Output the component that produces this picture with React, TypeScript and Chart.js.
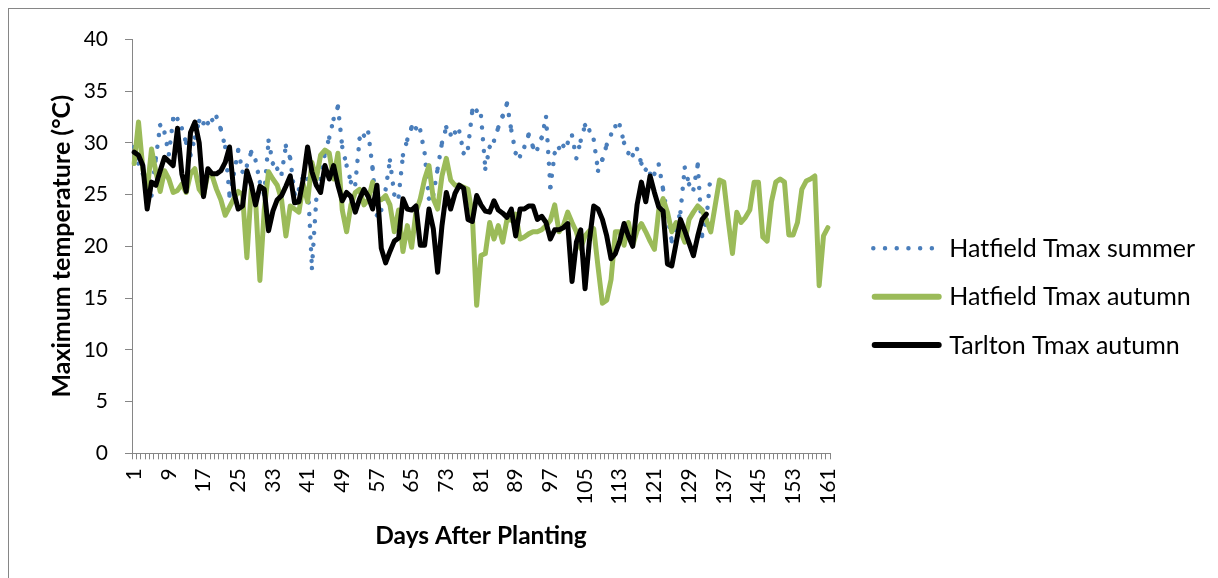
import React, { useEffect, useRef } from 'react';
import { Chart, registerables } from 'chart.js';

Chart.register(...registerables);

// Categories: days after planting
const days: string[] = Array.from({ length: 161 }, (_, i) => String(i + 1));

const seriesNames = ['Hatfield Tmax summer', 'Hatfield Tmax autumn', 'Tarlton Tmax autumn'];

const hatfieldSummer: number[] = [
  29.6, 28, 27, 26.5, 24.9, 28.5, 31.7, 31, 28.9, 32.3,
  32.3, 31.4, 30, 28.8, 30.5, 32.1, 31.9, 31.9, 32.2, 32.5,
  31.3, 29.6, 24.9, 27, 29.3, 27.2, 27.8, 29.1, 28.3, 26.2,
  25, 30.2, 28, 27.5, 27, 29.7, 28.5, 25, 25.5, 26.8,
  26.5, 17.9, 24.5, 26.5, 29, 30.5, 32.3, 33.5, 29.6, 27.8,
  26.2, 26, 30.4, 30.7, 31, 27.5, 23, 23.5, 25.5, 28.3,
  25, 24.8, 28.8, 30.3, 31.5, 31.4, 31.2, 29, 24.6, 25,
  27.5, 30, 31.5, 30.8, 31, 31.1, 29, 29.5, 33.1, 33.1,
  32.6, 27.5, 29.6, 30.2, 31.5, 32.6, 33.8, 31.2, 29, 28.7,
  29.6, 30.8, 29.6, 29.4, 30.5, 32.5, 25.7, 29, 29.5, 29.7,
  30, 30.7, 28.5, 30.2, 31.7, 31.2, 30.3, 27.3, 28.4, 29.8,
  30.8, 31.6, 31.7, 30, 29, 28.8, 29.4, 28, 27.4, 27,
  27, 27.9, 25.5, 23, 20.5, 21.8, 23.3, 27.6, 26, 25.5,
  27.9, 21, 22.6, 27.1,
];

const hatfieldAutumn: number[] = [
  28, 32, 27.5, 25.3, 29.4, 27.2, 25.3, 27.3, 26.5, 25.2,
  25.4, 26, 25.2, 27, 27.5, 25.5, 24.9, 27, 26.8, 25.5,
  24.5, 23, 23.8, 24.6, 25.3, 25, 18.9, 25.5, 24.5, 16.7,
  23.5, 27.2, 26.5, 25.9, 24.5, 21, 23.9, 23.6, 23.3, 26,
  24.3, 28.1, 26.5, 28.8, 29.3, 29, 26.5, 29, 23.5, 21.4,
  24, 25.2, 25.5, 24, 24.5, 26.2, 24.6, 24.5, 24.9, 24,
  21.4, 23.5, 19.5, 22, 19.9, 23.3, 24.6, 26.5, 27.8, 24.6,
  23.6, 26.8, 28.5, 26.4, 25.9, 25.9, 25.7, 25.5, 23, 14.3,
  19.1, 19.3, 22.3, 20.7, 22, 20.4, 22.6, 22.5, 23.1, 20.7,
  20.9, 21.2, 21.4, 21.4, 21.6, 22, 22.5, 24, 21.4, 22,
  23.3, 22.3, 21.4, 19.8, 21, 21.5, 21.7, 18, 14.5, 14.8,
  16.8, 21.4, 21.4, 20.1, 22.3, 20.1, 21.5, 22.2, 21.4, 20.5,
  19.7, 23.5, 24.6, 23.3, 21.4, 22.3, 21.5, 20.4, 22.6, 23.3,
  23.9, 23.5, 22.5, 21.4, 23.9, 26.4, 26.2, 22.6, 19.3, 23.3,
  22.3, 22.8, 23.5, 26.2, 26.2, 20.9, 20.5, 24.3, 26.2, 26.5,
  26.2, 21.1, 21.1, 22.3, 25.5, 26.3, 26.5, 26.8, 16.2, 21,
  21.8,
];

const tarltonAutumn: number[] = [
  29.1, 28.8, 27.8, 23.6, 26.2, 25.9, 27.3, 28.6, 28.2, 27.8,
  31.4, 27, 25.3, 31, 32, 30, 24.8, 27.5, 27, 27,
  27.3, 28.1, 29.6, 25.2, 23.6, 23.9, 27.3, 26, 24, 25.8,
  25.5, 21.5, 23.4, 24.5, 24.9, 25.8, 26.8, 24.2, 24.3, 26.5,
  29.6, 27.2, 25.9, 25.2, 27.8, 26.5, 27.8, 25.9, 24.4, 25.2,
  24.8, 23.3, 24.6, 25.5, 24.8, 23.6, 25.9, 19.8, 18.4, 19.5,
  20.5, 20.8, 24.6, 23.6, 23.5, 23.9, 20.1, 20.1, 23.6, 21.7,
  17.5, 22, 25.2, 23.6, 25.1, 25.9, 25.6, 22.6, 22.4, 24.9,
  24, 23.4, 23.3, 24.4, 23.5, 23.2, 22.8, 23.6, 21, 23.6,
  23.6, 23.9, 23.9, 22.6, 22.9, 22.3, 20.7, 21.6, 21.6, 21.8,
  22.2, 16.6, 20.4, 21.6, 15.9, 20.5, 23.9, 23.6, 22.6, 21,
  18.8, 19.3, 20.5, 22.2, 21, 20, 24, 26.2, 24.3, 26.8,
  25.2, 23.8, 23.4, 18.3, 18.1, 20.3, 22.6, 21.5, 20.3, 19.1,
  21, 22.6, 23.1,
];

const FONT = 'Lato, "Open Sans", "Liberation Sans", sans-serif';
const AXIS_GREY = '#868686';
const DOT_DASH = [0.01, 11.7];

const sideLegend = {
  id: 'sideLegend',
  afterDraw(chart: any) {
    const ctx = chart.ctx as CanvasRenderingContext2D;
    const rows = [239.3, 287.7, 336];
    chart.data.datasets.forEach((ds: any, i: number) => {
      const y = rows[i];
      const dotted = !!ds.borderDash;
      ctx.save();
      ctx.strokeStyle = ds.borderColor;
      ctx.lineWidth = dotted ? 4.5 : 6;
      ctx.lineCap = 'round';
      ctx.setLineDash(dotted ? ds.borderDash : []);
      ctx.beginPath();
      if (dotted) {
        ctx.moveTo(864.3, y);
        ctx.lineTo(923.5, y);
      } else {
        ctx.moveTo(865.7, y);
        ctx.lineTo(929.7, y);
      }
      ctx.stroke();
      ctx.setLineDash([]);
      ctx.fillStyle = '#000';
      ctx.font = `25px ${FONT}`;
      ctx.textAlign = 'left';
      ctx.textBaseline = 'alphabetic';
      ctx.fillText(ds.label, 940.3, y + 8.6);
      ctx.restore();
    });
  },
};

export default function App() {
  const canvasRef = useRef<HTMLCanvasElement | null>(null);

  useEffect(() => {
    const canvas = canvasRef.current;
    if (!canvas) return;
    const chart = new Chart(canvas, {
      type: 'line',
      data: {
        labels: days,
        datasets: [
          {
            label: seriesNames[0],
            data: hatfieldSummer,
            borderColor: '#4A7EBB',
            backgroundColor: '#4A7EBB',
            borderWidth: 4.5,
            borderDash: DOT_DASH,
            borderCapStyle: 'round',
            borderJoinStyle: 'round',
            pointRadius: 0,
            tension: 0,
            fill: false,
            order: 3,
            // restart the dot pattern at every segment, as the original does
            segment: {
              borderDashOffset: (c: any) => (c.p0DataIndex % 2 ? 0 : 0.001),
            },
          } as any,
          {
            label: seriesNames[1],
            data: hatfieldAutumn,
            borderColor: '#9BBB59',
            backgroundColor: '#9BBB59',
            borderWidth: 5,
            borderCapStyle: 'round',
            borderJoinStyle: 'round',
            pointRadius: 0,
            tension: 0,
            fill: false,
            order: 2,
          } as any,
          {
            label: seriesNames[2],
            data: tarltonAutumn,
            borderColor: '#000000',
            backgroundColor: '#000000',
            borderWidth: 5,
            borderCapStyle: 'round',
            borderJoinStyle: 'round',
            pointRadius: 0,
            tension: 0,
            fill: false,
            order: 1,
          } as any,
        ],
      },
      options: {
        responsive: false,
        animation: false,
        events: [],
        layout: { padding: { left: 20, top: 30.3, right: 387, bottom: 0 } },
        plugins: {
          legend: { display: false },
          tooltip: { enabled: false },
        },
        scales: {
          x: {
            type: 'category',
            offset: true,
            grid: {
              display: true,
              drawOnChartArea: false,
              drawTicks: true,
              tickLength: 6,
              color: AXIS_GREY,
              offset: true,
            },
            border: { display: true, color: AXIS_GREY, width: 1 },
            ticks: {
              autoSkip: false,
              maxRotation: 90,
              minRotation: 90,
              padding: 9,
              color: '#000',
              font: { family: FONT, size: 21 },
              callback: (_v: any, i: number) => (i % 8 === 0 ? days[i] : ''),
            },
            title: {
              display: true,
              text: 'Days After Planting',
              color: '#000',
              font: { family: FONT, size: 24.5, weight: 'bold' },
              padding: { top: 0, bottom: 27 },
            },
            afterFit: (s: any) => {
              s.height = 124.7;
            },
          } as any,
          y: {
            min: 0,
            max: 40,
            ticks: {
              stepSize: 5,
              padding: 17,
              color: '#000',
              font: { family: FONT, size: 21 },
            },
            grid: {
              drawOnChartArea: false,
              drawTicks: true,
              tickLength: 7,
              color: AXIS_GREY,
            },
            border: { display: true, color: AXIS_GREY, width: 1 },
            title: {
              display: true,
              text: 'Maximum temperature (°C)',
              color: '#000',
              font: { family: FONT, size: 25, weight: 'bold' },
              padding: { top: 17.5, bottom: 0 },
            },
            afterFit: (s: any) => {
              s.width = 103;
            },
          } as any,
        },
      },
      plugins: [sideLegend],
    });
    return () => chart.destroy();
  }, []);

  return (
    <div
      style={{
        position: 'relative',
        width: 1208,
        height: 569,
        border: `1px solid ${AXIS_GREY}`,
        borderBottom: 'none',
        background: '#fff',
      }}
    >
      <style>{'html,body{overflow:hidden}'}</style>
      <canvas ref={canvasRef} width={1208} height={569} style={{ display: 'block' }} />
    </div>
  );
}
